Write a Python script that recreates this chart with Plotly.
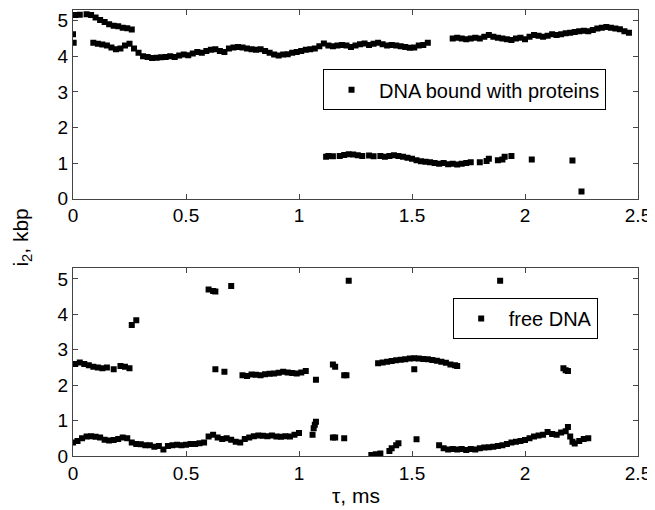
import plotly.graph_objects as go

# top panel: DNA bound with proteins (tau in ms, i2 in kbp)
t_bound_a = [0.00, 0.003, 0.01, 0.03, 0.06, 0.08, 0.10, 0.12, 0.14, 0.16, 0.18, 0.20, 0.22, 0.24, 0.26]
i2_bound_a = [4.62, 4.38, 5.16, 5.17, 5.18, 5.16, 5.09, 5.02, 4.96, 4.90, 4.86, 4.84, 4.80, 4.79, 4.75]

t_bound_b = [0.09, 0.11, 0.13, 0.15, 0.17, 0.19, 0.21, 0.23, 0.25, 0.27, 0.29, 0.31, 0.33, 0.35, 0.37,
             0.39, 0.41, 0.43, 0.45, 0.47, 0.49, 0.51, 0.53, 0.55, 0.57, 0.59, 0.61, 0.63, 0.65, 0.67,
             0.69, 0.71, 0.73, 0.75, 0.77, 0.79, 0.81, 0.83, 0.85, 0.87, 0.89, 0.91, 0.93, 0.95, 0.97,
             0.99, 1.01, 1.03, 1.05, 1.07, 1.09, 1.11, 1.13, 1.15, 1.17, 1.19, 1.21, 1.23, 1.25, 1.27,
             1.29, 1.31, 1.33, 1.35, 1.37, 1.39, 1.41, 1.43, 1.45, 1.47, 1.49, 1.51, 1.53, 1.55, 1.57]
i2_bound_b = [4.38, 4.35, 4.33, 4.30, 4.25, 4.20, 4.22, 4.30, 4.35, 4.22, 4.10, 4.00, 3.98, 3.95, 3.96,
              3.97, 3.98, 4.00, 3.98, 4.02, 4.05, 4.03, 4.08, 4.12, 4.10, 4.15, 4.18, 4.20, 4.15, 4.12,
              4.22, 4.25, 4.26, 4.25, 4.22, 4.20, 4.18, 4.20, 4.15, 4.10, 4.05, 4.02, 4.05, 4.06, 4.10,
              4.12, 4.15, 4.18, 4.20, 4.22, 4.28, 4.36, 4.30, 4.28, 4.30, 4.32, 4.30, 4.26, 4.30, 4.34,
              4.36, 4.32, 4.35, 4.38, 4.34, 4.30, 4.32, 4.30, 4.28, 4.26, 4.24, 4.25, 4.30, 4.32, 4.38]

t_bound_c = [1.68, 1.70, 1.72, 1.74, 1.76, 1.78, 1.80, 1.82, 1.84, 1.86, 1.88, 1.90, 1.92, 1.94, 1.96,
             1.98, 2.00, 2.02, 2.04, 2.06, 2.08, 2.10, 2.12, 2.14, 2.16, 2.18, 2.20, 2.22, 2.24, 2.26,
             2.28, 2.30, 2.32, 2.34, 2.36, 2.38, 2.40, 2.42, 2.44, 2.46]
i2_bound_c = [4.50, 4.52, 4.50, 4.48, 4.50, 4.52, 4.50, 4.55, 4.60, 4.55, 4.52, 4.50, 4.48, 4.46, 4.50,
              4.52, 4.48, 4.55, 4.60, 4.58, 4.55, 4.58, 4.62, 4.60, 4.62, 4.65, 4.66, 4.68, 4.70, 4.72,
              4.70, 4.74, 4.78, 4.80, 4.82, 4.80, 4.78, 4.76, 4.70, 4.66]

t_bound_d = [1.12, 1.13, 1.15, 1.18, 1.20, 1.22, 1.24, 1.26, 1.28, 1.31, 1.33, 1.36, 1.38, 1.40, 1.42,
             1.44, 1.46, 1.48, 1.50, 1.52, 1.54, 1.56, 1.58, 1.60, 1.62, 1.64, 1.66, 1.68, 1.70, 1.72,
             1.74, 1.76, 1.80, 1.83, 1.84, 1.88, 1.90, 1.91, 1.94, 2.03, 2.21, 2.25]
i2_bound_d = [1.18, 1.20, 1.19, 1.20, 1.23, 1.25, 1.24, 1.22, 1.20, 1.21, 1.19, 1.20, 1.18, 1.20, 1.22,
              1.20, 1.18, 1.15, 1.12, 1.08, 1.05, 1.04, 1.02, 1.00, 0.98, 1.00, 0.97, 0.98, 0.96, 0.98,
              1.00, 1.02, 1.02, 1.06, 1.12, 1.08, 1.10, 1.18, 1.20, 1.10, 1.07, 0.20]

# bottom panel: free DNA
t_free_low = [0.00, 0.02, 0.04, 0.06, 0.08, 0.10, 0.12, 0.14, 0.16, 0.18, 0.20, 0.22, 0.24, 0.26, 0.28,
              0.30, 0.32, 0.34, 0.36, 0.38, 0.40, 0.42, 0.44, 0.46, 0.48, 0.50, 0.52, 0.54, 0.56, 0.58,
              0.60, 0.62, 0.64, 0.66, 0.68, 0.70, 0.72, 0.74, 0.76, 0.78, 0.80, 0.82, 0.84, 0.86, 0.88,
              0.90, 0.92, 0.94, 0.96, 0.98, 1.00]
i2_free_low = [0.38, 0.42, 0.50, 0.55, 0.56, 0.54, 0.52, 0.46, 0.44, 0.45, 0.48, 0.52, 0.50, 0.38, 0.34,
               0.33, 0.30, 0.30, 0.26, 0.28, 0.18, 0.28, 0.30, 0.32, 0.30, 0.32, 0.34, 0.34, 0.36, 0.38,
               0.55, 0.60, 0.52, 0.48, 0.50, 0.46, 0.40, 0.38, 0.48, 0.52, 0.56, 0.58, 0.57, 0.56, 0.58,
               0.55, 0.54, 0.56, 0.55, 0.60, 0.65]

t_free_late = [1.62, 1.64, 1.66, 1.68, 1.70, 1.72, 1.74, 1.76, 1.78, 1.80, 1.82, 1.84, 1.86, 1.88, 1.90,
               1.92, 1.94, 1.96, 1.98, 2.00, 2.02, 2.04, 2.06, 2.08, 2.10, 2.12, 2.14, 2.16, 2.18, 2.19,
               2.20, 2.21, 2.22, 2.24, 2.26, 2.28]
i2_free_late = [0.30, 0.22, 0.18, 0.20, 0.18, 0.20, 0.17, 0.20, 0.18, 0.22, 0.24, 0.25, 0.26, 0.28, 0.30,
                0.34, 0.38, 0.40, 0.42, 0.45, 0.50, 0.55, 0.58, 0.60, 0.68, 0.62, 0.60, 0.66, 0.70, 0.82,
                0.55, 0.40, 0.35, 0.42, 0.48, 0.50]

t_free_mid1 = [0.01, 0.03, 0.05, 0.07, 0.09, 0.11, 0.13, 0.15, 0.18, 0.21, 0.23, 0.25]
i2_free_mid1 = [2.60, 2.64, 2.60, 2.56, 2.52, 2.50, 2.48, 2.50, 2.45, 2.54, 2.52, 2.48]

t_free_mid2 = [0.75, 0.77, 0.79, 0.81, 0.83, 0.85, 0.87, 0.89, 0.91, 0.93, 0.95, 0.97, 0.99, 1.01, 1.03]
i2_free_mid2 = [2.28, 2.26, 2.30, 2.29, 2.28, 2.31, 2.32, 2.33, 2.35, 2.38, 2.36, 2.34, 2.33, 2.36, 2.40]

t_free_mid3 = [1.35, 1.37, 1.39, 1.41, 1.43, 1.45, 1.47, 1.49, 1.51, 1.53, 1.55, 1.57, 1.59, 1.61, 1.63,
               1.65, 1.67, 1.69, 1.70]
i2_free_mid3 = [2.62, 2.64, 2.66, 2.68, 2.70, 2.72, 2.73, 2.75, 2.76, 2.75, 2.74, 2.73, 2.71, 2.69, 2.66,
                2.63, 2.58, 2.56, 2.54]

t_free_iso = [0.26, 0.28, 0.60, 0.62, 0.63, 0.70, 0.63, 0.67, 1.22, 1.89, 1.075, 1.15, 1.16, 1.20, 1.21,
              1.51, 2.17, 2.18, 2.19, 1.06, 1.065, 1.07, 1.075, 1.15, 1.16, 1.20, 1.32, 1.34, 1.36, 1.40,
              1.41, 1.43, 1.44, 1.52]
i2_free_iso = [3.70, 3.83, 4.70, 4.66, 4.64, 4.80, 2.45, 2.38, 4.95, 4.95, 2.15, 2.58, 2.52, 2.28, 2.28,
               2.45, 2.48, 2.42, 2.40, 0.60, 0.78, 0.88, 0.97, 0.52, 0.52, 0.50, 0.03, 0.05, 0.07, 0.14,
               0.22, 0.30, 0.36, 0.47]

x_ticks = [0, 0.5, 1, 1.5, 2, 2.5]
x_tick_text = ["0", "0.5", "1", "1.5", "2", "2.5"]
y_ticks = [0, 1, 2, 3, 4, 5]

FONT = "Liberation Sans, Arial, Helvetica, sans-serif"
mk = dict(symbol="square", size=6, color="black", line=dict(width=0))

t_top = t_bound_a + t_bound_b + t_bound_c + t_bound_d
i2_top = i2_bound_a + i2_bound_b + i2_bound_c + i2_bound_d
t_bot = t_free_low + t_free_late + t_free_mid1 + t_free_mid2 + t_free_mid3 + t_free_iso
i2_bot = i2_free_low + i2_free_late + i2_free_mid1 + i2_free_mid2 + i2_free_mid3 + i2_free_iso

data = [go.Scatter(x=t_top, y=i2_top, mode="markers", marker=mk, showlegend=True,
                   name="DNA bound with proteins", xaxis="x", yaxis="y", legend="legend"),
        go.Scatter(x=t_bot, y=i2_bot, mode="markers", marker=mk, showlegend=True,
                   name="free DNA", xaxis="x2", yaxis="y2", legend="legend2")]

ax = dict(range=[0, 2.5], tickvals=x_ticks, ticktext=x_tick_text, ticks="inside", ticklen=5,
          tickcolor="#444", showline=True, linecolor="#444", linewidth=1, mirror="ticks",
          showgrid=False, zeroline=False, tickfont=dict(size=19, color="black"))
ay = dict(range=[0, 5.3], tickvals=y_ticks, ticks="inside", ticklen=5,
          tickcolor="#444", showline=True, linecolor="#444", linewidth=1, mirror="ticks",
          showgrid=False, zeroline=False, tickfont=dict(size=19, color="black"))

leg = dict(bordercolor="black", borderwidth=1, bgcolor="white", font=dict(size=20, color="black"),
           xanchor="left", yanchor="middle", itemwidth=45, tracegroupgap=0)

# the page body has an 8px margin, so the figure is a bit smaller than the window
layout = go.Layout(
    width=647, height=502,
    margin=dict(l=65, r=17, t=2, b=54),
    showlegend=True,
    paper_bgcolor="white", plot_bgcolor="white",
    font=dict(family=FONT, color="black"),
    xaxis=dict(ax, domain=[0, 1], anchor="y"),
    yaxis=dict(ay, domain=[0.577, 1], anchor="x"),
    xaxis2=dict(ax, domain=[0, 1], anchor="y2"),
    yaxis2=dict(ay, domain=[0, 0.421], anchor="x2"),
    legend=dict(leg, x=0.4425, y=0.821),
    legend2=dict(leg, x=0.672, y=0.3085),
    annotations=[
        dict(text="i<sub>2</sub>, kbp", xref="paper", yref="paper", x=-0.09, y=0.49,
             textangle=-90, showarrow=False, font=dict(size=21), xanchor="center", yanchor="middle"),
        dict(text="τ, ms", xref="paper", yref="paper", x=0.5, y=-0.088,
             showarrow=False, font=dict(size=21), xanchor="center", yanchor="middle"),
    ],
)

fig = go.Figure(data=data, layout=layout)
fig.write_html("out.html")
